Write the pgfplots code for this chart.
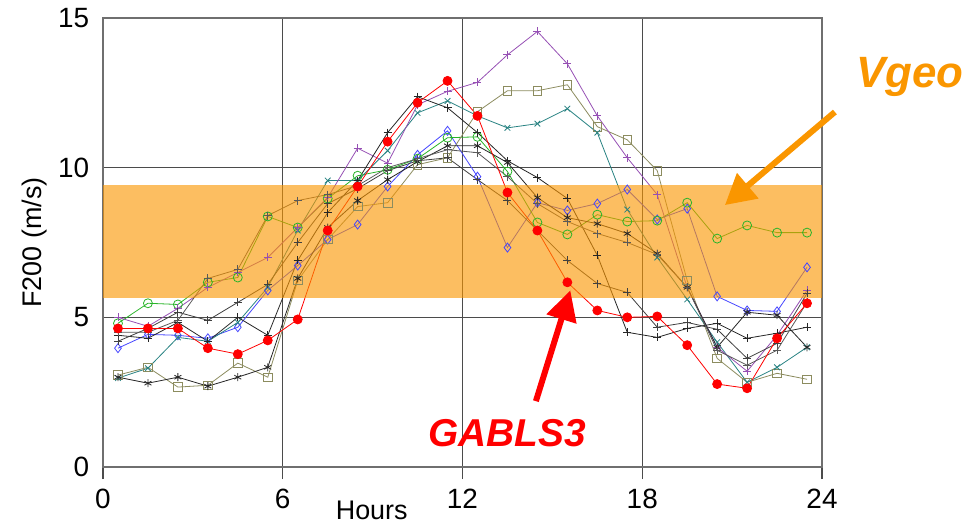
\documentclass[border=0pt]{standalone}
\usepackage{pgfplots}
\pgfplotsset{compat=1.18}
\usepackage{fontspec}
\setmainfont{Liberation Sans}
\usetikzlibrary{arrows.meta}
\definecolor{vorange}{RGB}{250,150,0}
\definecolor{band}{RGB}{250,150,0}
\definecolor{cpurple}{RGB}{150,80,180}
\definecolor{ctan}{RGB}{140,140,95}
\definecolor{cteal}{RGB}{40,130,130}
\definecolor{cblue}{RGB}{70,70,255}
\definecolor{cgreen}{RGB}{40,180,40}
\definecolor{cgrid}{RGB}{75,75,75}
\begin{document}
\begin{tikzpicture}[x=1bp,y=1bp]
\useasboundingbox (-103bp,-57bp) rectangle (874bp,467bp);
\begin{axis}[at={(0,0)}, anchor=south west, scale only axis,
  width=719bp, height=449bp,
  xmin=0, xmax=24, ymin=0, ymax=15,
  xtick={0,6,12,18,24}, ytick={0,5,10,15},
  grid=major, grid style={cgrid, line width=1.3bp},
  axis line style={cgrid!80, line width=1.3bp},
  xtick pos=bottom, ytick pos=left,
  tick align=outside,
  xtick style={cgrid, line width=1.3bp},
  x tick style={/pgfplots/major tick length=12bp},
  y tick style={/pgfplots/major tick length=0bp},
  tick label style={font=\fontsize{28}{30}\selectfont},
  /pgf/number format/assume math mode=true,
  yticklabel style={xshift=-6bp},
  xticklabel style={yshift=-14bp},
  clip=false,
  every axis plot/.append style={line width=0.8bp, mark size=3.5bp, mark options={solid, line width=0.8bp}},
]
% Blue diamonds
\addplot[cblue, mark=diamond, mark size=4.5bp] coordinates {(0.5,3.97)(1.5,4.43)(2.5,4.4)(3.5,4.3)(4.5,4.67)(5.5,5.9)(6.5,6.73)(7.5,7.6)(8.5,8.1)(9.5,9.37)(10.5,10.43)(11.5,11.23)(12.5,9.7)(13.5,7.33)(14.5,8.83)(15.5,8.57)(16.5,8.8)(17.5,9.27)(18.5,8.27)(19.5,8.63)(20.5,5.7)(21.5,5.23)(22.5,5.2)(23.5,6.67)};
% Green circles
\addplot[cgreen, mark=o, mark size=4.5bp] coordinates {(0.5,4.8)(1.5,5.47)(2.5,5.43)(3.5,6.17)(4.5,6.33)(5.5,8.37)(6.5,8.0)(7.5,8.97)(8.5,9.73)(9.5,9.93)(10.5,10.3)(11.5,11.0)(12.5,11.03)(13.5,9.87)(14.5,8.17)(15.5,7.77)(16.5,8.43)(17.5,8.2)(18.5,8.23)(19.5,8.83)(20.5,7.63)(21.5,8.07)(22.5,7.83)(23.5,7.83)};
% Tan squares
\addplot[ctan, mark=square, mark size=4.3bp] coordinates {(0.5,3.07)(1.5,3.33)(2.5,2.67)(3.5,2.73)(4.5,3.47)(5.5,3.0)(6.5,6.23)(7.5,7.6)(8.5,8.7)(9.5,8.83)(10.5,10.1)(11.5,10.33)(12.5,11.87)(13.5,12.57)(14.5,12.57)(15.5,12.77)(16.5,11.37)(17.5,10.93)(18.5,9.9)(19.5,6.23)(20.5,3.63)(21.5,2.83)(22.5,3.13)(23.5,2.93)};
% Teal crosses
\addplot[cteal, mark=x, mark size=4bp] coordinates {(0.5,2.97)(1.5,3.3)(2.5,4.33)(3.5,4.2)(4.5,4.83)(5.5,6.0)(6.5,7.9)(7.5,9.57)(8.5,9.57)(9.5,10.57)(10.5,11.83)(11.5,12.23)(12.5,11.73)(13.5,11.33)(14.5,11.47)(15.5,11.97)(16.5,11.17)(17.5,8.6)(18.5,7.0)(19.5,5.6)(20.5,4.17)(21.5,2.83)(22.5,3.33)(23.5,4.0)};
% Purple plus
\addplot[cpurple, mark=+, mark size=4bp] coordinates {(0.5,5.0)(1.5,4.7)(2.5,5.3)(3.5,6.0)(4.5,6.5)(5.5,7.0)(6.5,8.0)(7.5,9.0)(8.5,10.65)(9.5,10.15)(10.5,12.1)(11.5,12.55)(12.5,12.85)(13.5,13.77)(14.5,14.55)(15.5,13.47)(16.5,11.73)(17.5,10.33)(18.5,9.1)(19.5,6.0)(20.5,4.0)(21.5,3.2)(22.5,4.4)(23.5,5.9)};
% Black lines
\addplot[black!85, mark=+, mark size=4bp] coordinates {(0.5,4.4)(1.5,4.3)(2.5,4.83)(3.5,4.2)(4.5,5.0)(5.5,4.4)(6.5,6.9)(7.5,8.5)(8.5,9.57)(9.5,11.17)(10.5,12.37)(11.5,12.0)(12.5,11.17)(13.5,10.23)(14.5,9.67)(15.5,8.97)(16.5,7.07)(17.5,4.5)(18.5,4.33)(19.5,4.63)(20.5,4.8)(21.5,4.3)(22.5,4.47)(23.5,4.67)};
\addplot[black!85, mark=asterisk, mark size=4bp] coordinates {(0.5,3.0)(1.5,2.8)(2.5,3.0)(3.5,2.7)(4.5,3.0)(5.5,3.33)(6.5,6.3)(7.5,8.0)(8.5,8.9)(9.5,9.6)(10.5,10.2)(11.5,10.73)(12.5,10.73)(13.5,10.17)(14.5,9.0)(15.5,8.33)(16.5,8.13)(17.5,7.8)(18.5,7.13)(19.5,6.0)(20.5,4.0)(21.5,5.17)(22.5,5.07)(23.5,4.0)};
\addplot[black!75, mark=+, mark size=4bp] coordinates {(0.5,4.2)(1.5,4.63)(2.5,5.17)(3.5,4.9)(4.5,5.5)(5.5,6.1)(6.5,7.5)(7.5,8.8)(8.5,9.3)(9.5,9.9)(10.5,10.23)(11.5,10.33)(12.5,9.6)(13.5,8.9)(14.5,7.9)(15.5,6.9)(16.5,6.13)(17.5,5.83)(18.5,4.67)(19.5,4.83)(20.5,4.6)(21.5,3.63)(22.5,4.13)(23.5,5.8)};
\addplot[black!65, mark=+, mark size=4bp] coordinates {(0.5,4.5)(1.5,4.5)(2.5,4.9)(3.5,6.3)(4.5,6.6)(5.5,8.4)(6.5,8.9)(7.5,9.1)(8.5,9.4)(9.5,10.0)(10.5,10.3)(11.5,10.6)(12.5,10.5)(13.5,9.7)(14.5,8.8)(15.5,8.2)(16.5,7.8)(17.5,7.5)(18.5,7.1)(19.5,6.0)(20.5,3.9)(21.5,3.4)(22.5,3.9)(23.5,5.5)};
% Red filled circles (GABLS3)
\addplot[red, mark=*, mark size=4.5bp, mark options={fill=red, draw=red}] coordinates {(0.5,4.63)(1.5,4.63)(2.5,4.63)(3.5,3.97)(4.5,3.77)(5.5,4.23)(6.5,4.93)(7.5,7.9)(8.5,9.37)(9.5,10.87)(10.5,12.17)(11.5,12.9)(12.5,11.73)(13.5,9.17)(14.5,7.9)(15.5,6.17)(16.5,5.23)(17.5,5.0)(18.5,5.03)(19.5,4.07)(20.5,2.77)(21.5,2.63)(22.5,4.3)(23.5,5.47)};
% Vgeo band
\fill[band, fill opacity=0.62] (axis cs:0,5.65) rectangle (axis cs:24,9.42);
% annotations
\draw[vorange, line width=6bp, -{Triangle[length=30bp,width=32bp]}] (axis cs:24.43,11.86) -- (axis cs:20.76,8.75);
\draw[red, line width=6bp, -{Triangle[length=30bp,width=30bp]}] (axis cs:14.45,2.2) -- (axis cs:15.6,5.9);
\node[text=vorange, font=\fontsize{44}{44}\selectfont\bfseries\itshape] at (axis cs:26.93,13.03) {Vgeo};
\node[text=red, font=\fontsize{39}{39}\selectfont\bfseries\itshape] at (axis cs:13.48,1.14) {GABLS3};
\node[font=\fontsize{27}{27}\selectfont, yshift=-43bp] at (axis cs:8.97,0) {Hours};
\node[font=\fontsize{27}{27}\selectfont, xshift=-68bp, rotate=90] at (axis cs:0,7.5) {F200 (m/s)};
\end{axis}
\end{tikzpicture}
\end{document}
